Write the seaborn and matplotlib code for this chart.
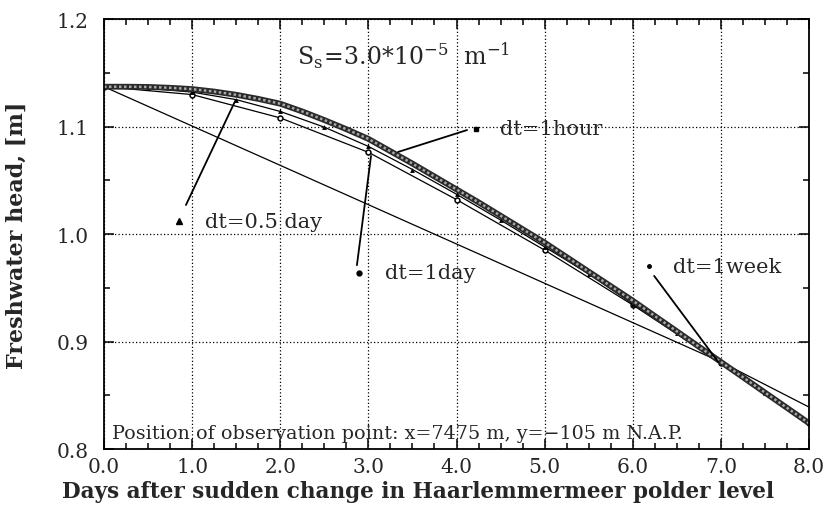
import numpy as np
import pandas as pd
import matplotlib
matplotlib.use("Agg")
import matplotlib.pyplot as plt
import seaborn as sns
from matplotlib.ticker import MultipleLocator, FormatStrFormatter

# ---------------- data ----------------
days_hour = [0.0, 0.25, 0.5, 0.75, 1.0, 1.25, 1.5, 1.75, 2.0, 2.25, 2.5, 2.75,
             3.0, 3.25, 3.5, 3.75, 4.0, 4.25, 4.5, 4.75, 5.0, 5.25, 5.5, 5.75,
             6.0, 6.25, 6.5, 6.75, 7.0, 7.25, 7.5, 7.75, 8.0]
head_hour = [1.137, 1.137, 1.1368, 1.136, 1.1348, 1.1325, 1.1295, 1.1257,
             1.1212, 1.1140, 1.1060, 1.0975, 1.0885, 1.0770, 1.0655, 1.0535,
             1.0415, 1.0295, 1.0170, 1.0045, 0.9920, 0.9785, 0.9650, 0.9515,
             0.9380, 0.9237, 0.9095, 0.8952, 0.8810, 0.8668, 0.8525, 0.8383,
             0.8240]

days_half = [0.0, 0.5, 1.0, 1.5, 2.0, 2.5, 3.0, 3.5, 4.0, 4.5, 5.0, 5.5,
             6.0, 6.5, 7.0, 7.5, 8.0]
head_half = [1.137, 1.1355, 1.132, 1.125, 1.114, 1.0994, 1.0815, 1.060,
             1.037, 1.013, 0.988, 0.963, 0.935, 0.908, 0.880, 0.852, 0.824]

days_day = [0, 1, 2, 3, 4, 5, 6, 7, 8]
head_day = [1.137, 1.1297, 1.108, 1.076, 1.032, 0.985, 0.934, 0.880, 0.824]

days_week = [0, 7, 8]
head_week = [1.137, 0.881, 0.839]

x_ticks = [0.0, 1.0, 2.0, 3.0, 4.0, 5.0, 6.0, 7.0, 8.0]
y_ticks = [0.8, 0.9, 1.0, 1.1, 1.2]

# ---------------- style ----------------
sns.set_theme(style="ticks")
plt.rcParams["font.family"] = ["DejaVu Serif"]
plt.rcParams["mathtext.fontset"] = "dejavuserif"
plt.rcParams["axes.linewidth"] = 1.3

fig = plt.figure(figsize=(8.26, 5.06), dpi=100)
ax = fig.add_axes([104 / 826, 56 / 506, 705 / 826, 430 / 506])

# 1 week (thin straight segments)
sns.lineplot(x=days_week, y=head_week, ax=ax, color="black", lw=0.9,
             marker=".", markersize=3, sort=False, estimator=None)
# 1 day
sns.lineplot(x=days_day, y=head_day, ax=ax, color="black", lw=0.9,
             marker="o", markersize=3.5, markerfacecolor="white",
             markeredgecolor="black", markeredgewidth=1.1, estimator=None)
# 0.5 day
sns.lineplot(x=days_half, y=head_half, ax=ax, color="black", lw=0.9,
             marker="^", markersize=3.5, markeredgewidth=0, estimator=None)
# 1 hour (dense markers -> beaded thick line)
sns.lineplot(x=days_hour, y=head_hour, ax=ax, color="#2a2a2a", lw=4.2,
             estimator=None)
ax.plot(days_hour, head_hour, color="#a8a8a8", lw=1.8,
        linestyle=(0, (1.0, 1.0)), solid_capstyle="butt")

# axes
ax.set_xlim(0, 8)
ax.set_ylim(0.8, 1.2)
ax.set_xticks(x_ticks)
ax.set_yticks(y_ticks)
ax.xaxis.set_minor_locator(MultipleLocator(0.25))
ax.yaxis.set_minor_locator(MultipleLocator(0.05))
ax.xaxis.set_major_formatter(FormatStrFormatter("%.1f"))
ax.yaxis.set_major_formatter(FormatStrFormatter("%.1f"))
ax.tick_params(which="both", direction="in", top=True, right=True,
               color="black", width=1.1)
ax.tick_params(which="major", length=7, labelsize=14.5)
ax.tick_params(which="minor", length=4)
ax.tick_params(axis="x", which="major", pad=6)
ax.tick_params(axis="y", which="major", pad=11)
for s in ax.spines.values():
    s.set_color("black")
ax.grid(True, which="major", color="black", lw=0.9, linestyle=(0, (1, 1.8)))

ax.set_xlabel("Days after sudden change in Haarlemmermeer polder level",
              fontsize=15.5, fontweight="bold")
ax.set_ylabel("Freshwater head, [m]", fontsize=16, fontweight="bold")
ax.xaxis.set_label_coords(0.446, -0.072)
ax.yaxis.set_label_coords(-0.108, 0.5)

# texts
ax.text(2.19, 1.158, r"$\mathregular{S_s\!=\!3.0{*}10^{-5}\ \ m^{-1}}$",
        fontsize=17, ha="left", va="baseline")
ax.text(0.09, 0.810, "Position of observation point: x=7475 m, y=\u2212105 m N.A.P.",
        fontsize=13.8, ha="left", va="baseline")

ax.text(4.495, 1.0977, "dt=1hour", fontsize=15, ha="left", va="center")
ax.text(1.146, 1.012, "dt=0.5 day", fontsize=15, ha="left", va="center")
ax.text(3.19, 0.964, "dt=1day", fontsize=15, ha="left", va="center")
ax.text(6.46, 0.970, "dt=1week", fontsize=15, ha="left", va="center")

# label markers
ax.plot([4.222], [1.0977], marker="s", ms=3, color="black")
ax.plot([0.851], [1.012], marker="^", ms=4, color="black")
ax.plot([2.894], [0.964], marker="o", ms=3.5, color="black")
ax.plot([6.186], [0.970], marker="o", ms=2.5, color="black")

# leader lines
lk = dict(arrowstyle="-", color="black", lw=1.3, shrinkA=0, shrinkB=0)
ax.annotate("", xy=(3.337, 1.0763), xytext=(4.12, 1.0967), arrowprops=lk)
ax.annotate("", xy=(days_half[3] - 0.01, head_half[3] - 0.001),
            xytext=(0.93, 1.027), arrowprops=lk)
ax.annotate("", xy=(3.03, 1.0726), xytext=(2.87, 0.971), arrowprops=lk)
ax.annotate("", xy=(days_week[1] - 0.03, head_week[1]),
            xytext=(6.243, 0.961), arrowprops=lk)

fig.savefig("out.png", dpi=100, facecolor="white")
